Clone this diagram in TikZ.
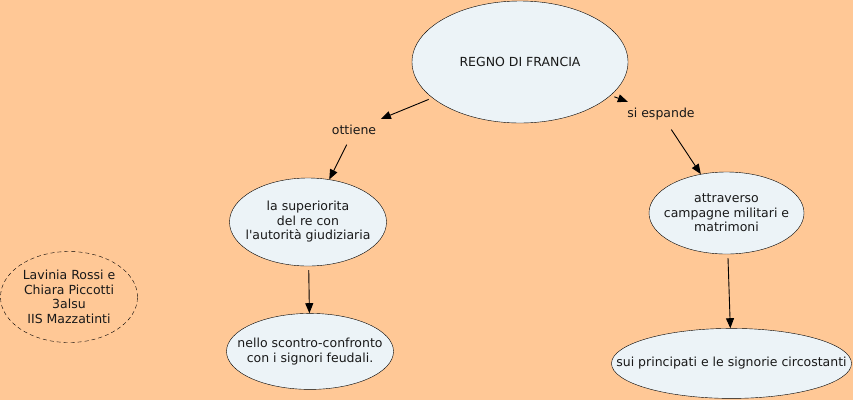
\documentclass[tikz,border=0pt]{standalone}
\usepackage{fontspec}
\setmainfont{DejaVu Sans}
\usepackage{xcolor}
\usepackage{tikz}
\usetikzlibrary{shapes.geometric, arrows.meta, positioning}
\definecolor{peach}{RGB}{255,200,150}
\definecolor{paleblue}{RGB}{236,243,247}

\begin{document}
\begin{tikzpicture}[
  x=1pt, y=-1pt,
  every node/.style={font=\fontsize{12.5}{14.5}\selectfont, text=black!90},
  concept/.style={ellipse, draw=black, fill=paleblue, inner sep=-40pt, align=center},
  authors/.style={ellipse, draw=black, dash pattern=on 4pt off 3pt, inner sep=0pt, align=center},
  link/.style={inner sep=6pt},
  arrow/.style={-{Triangle[length=10pt, width=8pt]}, line width=0.9pt, shorten <=4pt},
]

% Background
\fill[peach] (0,0) rectangle (853,400);
\useasboundingbox (0,0) rectangle (853,400);

% Concepts
\node[concept, minimum width=216pt, minimum height=122pt] (regno) at (520,62) {REGNO DI FRANCIA};
\node[concept, minimum width=157pt, minimum height=88pt] (sup) at (308,222) {la superiorita\\del re con\\l\textquotesingle autorità giudiziaria};
\node[concept, minimum width=167pt, minimum height=76pt, below=47pt of sup, xshift=2pt] (nello) {nello scontro-confronto\\con i signori feudali.};
\node[concept, minimum width=155pt, minimum height=82pt] (attr) at (726.5,213) {attraverso\\campagne militari e\\matrimoni};
\node[concept, minimum width=240pt, minimum height=70pt, below=74pt of attr, xshift=5pt] (sui) {sui principati e le signorie circostanti};
\node[authors, minimum width=137pt, minimum height=91pt] (autori) at (69,297) {Lavinia Rossi e\\Chiara Piccotti\\3alsu\\IIS Mazzatinti};

% Link labels
\node[link] (ottiene) at (354,130) {ottiene};
\node[link] (espande) at (661,114) {si espande};

% Connections
\draw[arrow] (regno) -- (ottiene);
\draw[arrow] (ottiene) -- (sup);
\draw[arrow] (regno) -- (espande);
\draw[arrow] (espande) -- (attr);
\draw[arrow] (sup) -- (nello);
\draw[arrow] (attr) -- (sui);

\end{tikzpicture}
\end{document}
